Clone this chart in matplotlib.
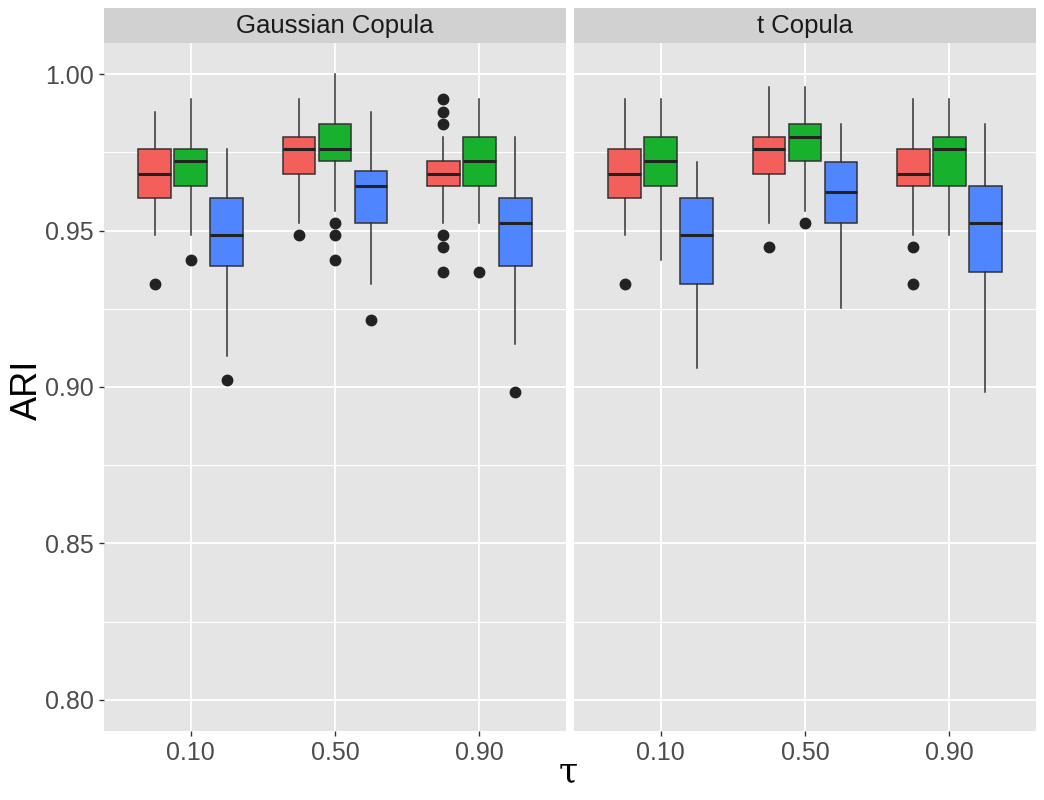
import matplotlib.pyplot as plt

# ARI box statistics: (whislo, q1, med, q3, whishi, fliers)
methods = ["m1", "m2", "m3"]
tau_labels = ["0.10", "0.50", "0.90"]
panels = ["Gaussian Copula", "t Copula"]
colors = ["#F35F5B", "#18B12D", "#4F86FF"]

gauss_stats = [
    # tau = 0.10
    [(0.9486, 0.9604, 0.9682, 0.9762, 0.9880, [0.9330]),
     (0.9486, 0.9642, 0.9722, 0.9762, 0.9920, [0.9407]),
     (0.9099, 0.9387, 0.9486, 0.9604, 0.9762, [0.9022])],
    # tau = 0.50
    [(0.9525, 0.9682, 0.9762, 0.9801, 0.9920, [0.9486]),
     (0.9564, 0.9722, 0.9762, 0.9841, 1.0000, [0.9525, 0.9486, 0.9407]),
     (0.9330, 0.9525, 0.9642, 0.9692, 0.9880, [0.9214])],
    # tau = 0.90
    [(0.9525, 0.9642, 0.9682, 0.9722, 0.9800,
      [0.9920, 0.9880, 0.9841, 0.9486, 0.9447, 0.9369]),
     (0.9525, 0.9642, 0.9722, 0.9801, 0.9920, [0.9369]),
     (0.9138, 0.9387, 0.9525, 0.9604, 0.9800, [0.8984])],
]

t_stats = [
    [(0.9486, 0.9604, 0.9682, 0.9762, 0.9920, [0.9330]),
     (0.9407, 0.9642, 0.9722, 0.9801, 0.9920, []),
     (0.9061, 0.9330, 0.9486, 0.9604, 0.9721, [])],
    [(0.9525, 0.9682, 0.9762, 0.9801, 0.9959, [0.9447]),
     (0.9564, 0.9722, 0.9801, 0.9841, 0.9959, [0.9525]),
     (0.9253, 0.9525, 0.9623, 0.9721, 0.9840, [])],
    [(0.9486, 0.9642, 0.9682, 0.9762, 0.9920, [0.9447, 0.9330]),
     (0.9486, 0.9642, 0.9762, 0.9801, 0.9920, []),
     (0.8984, 0.9369, 0.9525, 0.9642, 0.9840, [])],
]

all_stats = [gauss_stats, t_stats]

plt.rcParams['font.family'] = ['Liberation Sans', 'DejaVu Sans']

fig = plt.figure(figsize=(10.44, 8.0), dpi=100)
W, H = 1044, 800
panel_lefts = [104, 574]
panel_w = 462
top, bottom = 43, 731
strip_h = 35

for p, stats in enumerate(all_stats):
    ax = fig.add_axes([panel_lefts[p] / W, (H - bottom) / H, panel_w / W, (bottom - top) / H])
    ax.set_facecolor("#E5E5E5")
    for s in ax.spines.values():
        s.set_visible(False)
    ax.set_xlim(0.4, 3.6)
    ax.set_ylim(0.79, 1.01)
    ax.set_yticks([0.80, 0.85, 0.90, 0.95, 1.00])
    ax.set_yticks([0.825, 0.875, 0.925, 0.975], minor=True)
    ax.set_xticks([1, 2, 3])
    ax.set_xticklabels(tau_labels)
    ax.grid(True, which="major", color="white", linewidth=1.3)
    ax.grid(True, which="minor", axis="y", color="white", linewidth=0.8)
    ax.set_axisbelow(True)
    ax.tick_params(axis="both", which="major", labelsize=18, labelcolor="#4D4D4D",
                   color="#333333", length=3.5, width=1.0, pad=4)
    ax.tick_params(axis="both", which="minor", length=0)
    if p == 0:
        ax.set_yticklabels(["0.80", "0.85", "0.90", "0.95", "1.00"])
    else:
        ax.tick_params(axis="y", which="both", left=False, labelleft=False)

    for g in range(3):
        for m in range(3):
            lo, q1, med, q3, hi, fl = stats[g][m]
            d = dict(whislo=lo, q1=q1, med=med, q3=q3, whishi=hi, fliers=fl)
            pos = g + 1 + (m - 1) * 0.25
            ax.bxp([d], positions=[pos], widths=0.225, patch_artist=True,
                   showcaps=False,
                   boxprops=dict(facecolor=colors[m], edgecolor="#333333", linewidth=1.1),
                   medianprops=dict(color="#222222", linewidth=2.2),
                   whiskerprops=dict(color="#333333", linewidth=1.1),
                   flierprops=dict(marker="o", markerfacecolor="#222222",
                                   markeredgecolor="#222222", markersize=7.5),
                   manage_ticks=False)

    sax = fig.add_axes([panel_lefts[p] / W, (H - top) / H, panel_w / W, strip_h / H])
    sax.set_facecolor("#D1D1D1")
    sax.set_xticks([])
    sax.set_yticks([])
    for s in sax.spines.values():
        s.set_visible(False)
    sax.text(0.5, 0.5, panels[p], ha="center", va="center", fontsize=18.5,
             color="#1A1A1A", transform=sax.transAxes)

fig.text(27 / W, (H - 390) / H, "ARI", rotation=90, ha="center", va="center",
         fontsize=26, color="black")
fig.text(568 / W, (H - 772) / H, "τ", ha="center", va="center", fontsize=25,
         family=["DejaVu Serif"], color="black")

fig.savefig("out.png", dpi=100, facecolor="white")
